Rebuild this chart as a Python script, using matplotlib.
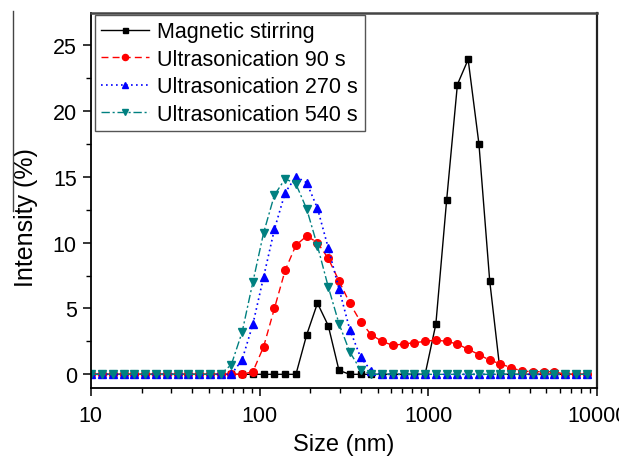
import numpy as np
import matplotlib
matplotlib.use("Agg")
import matplotlib.pyplot as plt
from matplotlib.lines import Line2D
from matplotlib.ticker import MultipleLocator, LogLocator, NullFormatter, FixedLocator, FixedFormatter

plt.rcParams['font.family'] = ['Liberation Sans', 'DejaVu Sans']

# size bins (nm), log spaced
sizes = [10.1, 11.7, 13.54, 15.69, 18.17, 21.04, 24.36, 28.21, 32.67, 37.84,
         43.82, 50.75, 58.77, 68.06, 78.82, 91.28, 105.7, 122.4, 141.8, 164.2,
         190.1, 220.2, 255.0, 295.3, 342.0, 396.1, 458.7, 531.2, 615.1, 712.4,
         825.0, 955.4, 1106, 1281, 1484, 1718, 1990, 2305, 2669, 3091,
         3580, 4145, 4801, 5560, 6439, 7456, 8635]

magnetic = [0] * 20 + [3.0, 5.4, 3.7, 0.3] + [0] * 8 + \
    [3.8, 13.2, 22.0, 23.9, 17.5, 7.1] + [0] * 9

us_90 = [0] * 15 + [0.2, 2.1, 5.0, 7.9, 9.8, 10.5, 10.0, 8.8, 7.1, 5.4, 4.0,
                    3.0, 2.5, 2.2, 2.3, 2.4, 2.5, 2.6, 2.5, 2.3, 1.9, 1.5, 1.07,
                    0.8, 0.5, 0.25, 0.2, 0.2, 0.2] + [0] * 3

us_270 = [0] * 14 + [1.1, 3.8, 7.4, 11.0, 13.8, 15.0, 14.55, 12.6, 9.6, 6.5,
                     3.4, 1.3, 0.25] + [0] * 20

us_540 = [0] * 13 + [0.74, 3.2, 7.0, 10.75, 13.6, 14.85, 14.45, 12.55, 9.75,
                     6.65, 3.85, 1.7, 0.35] + [0] * 21

labels = ["Magnetic stirring", "Ultrasonication 90 s",
          "Ultrasonication 270 s", "Ultrasonication 540 s"]

fig = plt.figure(figsize=(6.19, 4.6), dpi=100)
ax = fig.add_axes([0.1465, 0.1543, 0.8185, 0.8153])

ax.plot(sizes, magnetic, color='black', ls='-', lw=1.0, marker='s', ms=4.5, label=labels[0])
ax.plot(sizes, us_90, color='#ff0000', ls=(0, (5, 3)), lw=1.0, marker='o', ms=5.5, label=labels[1])
ax.plot(sizes, us_270, color='#0000ff', ls=(0, (1, 2)), lw=1.2, marker='^', ms=5.5, label=labels[2])
ax.plot(sizes, us_540, color='#008080', ls=(0, (6, 2, 1.5, 2)), lw=1.0, marker='v', ms=5.5, label=labels[3])

ax.set_xscale('log')
ax.set_xlim(10, 10000)
ax.set_ylim(-1.04, 27.43)

ax.xaxis.set_major_locator(FixedLocator([10, 100, 1000, 10000]))
ax.xaxis.set_major_formatter(FixedFormatter(['10', '100', '1000', '10000']))
ax.xaxis.set_minor_locator(LogLocator(base=10, subs=np.arange(2, 10)))
ax.xaxis.set_minor_formatter(NullFormatter())
ax.yaxis.set_major_locator(MultipleLocator(5))
ax.yaxis.set_minor_locator(MultipleLocator(2.5))

ax.tick_params(which='major', direction='out', length=6, width=1.1, labelsize=15.5, pad=4)
ax.tick_params(which='minor', direction='out', length=3.5, width=1.0)
ax.tick_params(top=False, right=False, which='both')
ax.tick_params(axis='x', which='major', pad=6)

for side in ['left', 'bottom']:
    ax.spines[side].set_linewidth(1.3)
ax.spines['top'].set_linewidth(1.8)
ax.spines['top'].set_color('#444444')
ax.spines['right'].set_linewidth(1.6)
ax.spines['right'].set_color('#222222')

ax.set_xlabel("Size (nm)", fontsize=17)
ax.set_ylabel("Intensity (%)", fontsize=18)
ax.xaxis.set_label_coords(0.5, -0.12)
ax.yaxis.set_label_coords(-0.104, 0.456)

leg = ax.legend(loc='upper left', bbox_to_anchor=(0.0085, 0.995), borderaxespad=0,
                fontsize=15.5, handlelength=2.2, handletextpad=0.4, labelspacing=0.3,
                borderpad=0.3, fancybox=False, framealpha=1, markerscale=0.8)
leg.get_frame().set_edgecolor('#555555')
leg.get_frame().set_linewidth(1.0)

# thin stray line at the left edge of the figure
fig.add_artist(Line2D([13.3 / 619, 13.3 / 619], [1 - 12 / 460, 1 - 212 / 460],
                      transform=fig.transFigure, color='#444444', lw=1.0))

fig.savefig("out.png", dpi=100)
